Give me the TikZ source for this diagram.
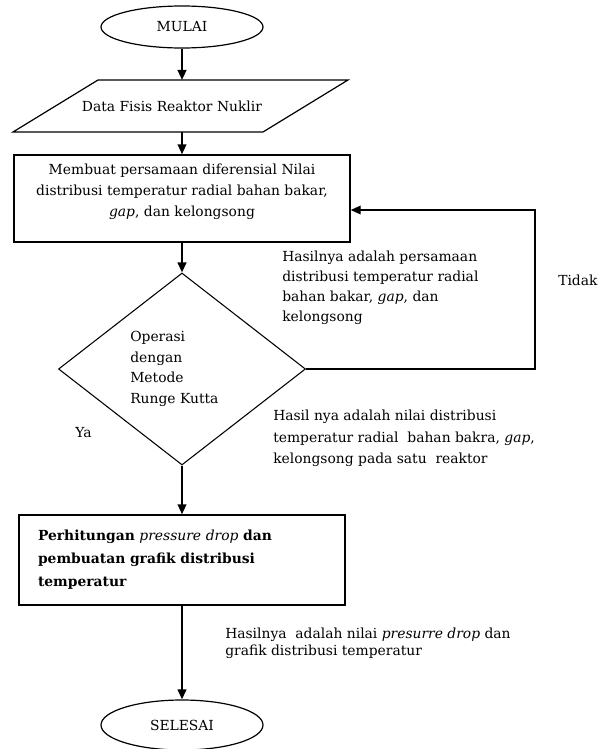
\documentclass[tikz,border=0pt]{standalone}
\usepackage{fontspec}
\setmainfont{DejaVu Serif}
\usetikzlibrary{shapes.geometric,arrows.meta}
\tikzset{
  line/.style={line width=1.5pt,-{Triangle[length=7.5pt,width=6.5pt]}},
  terminal/.style={draw,ellipse,line width=0.9pt,minimum width=121.5pt,minimum height=31.5pt,inner sep=0pt},
  process/.style={draw,rectangle,line width=1.1pt,inner sep=0pt},
  note/.style={align=left,inner sep=0pt,anchor=west},
}
\begin{document}
\begin{tikzpicture}[x=0.75pt,y=-0.75pt,font=\fontsize{10.4}{15}\selectfont]
\useasboundingbox (0,0) rectangle (612,749);
% alur utama
\node[terminal] (mulai) at (182,27) {MULAI};
\coordinate (dataNW) at (98,80);
\coordinate (dataNE) at (348,80);
\coordinate (dataSE) at (263,132);
\coordinate (dataSW) at (13,132);
\draw[line width=0.9pt] (dataSW) -- (dataNW) -- (dataNE) -- (dataSE) -- cycle;
\node[inner sep=0pt] (data) at (172,106) {Data Fisis Reaktor Nuklir};
\node[process,minimum width=252pt,minimum height=65.25pt] (model) at (182,198.5) {};
\node[align=center,inner sep=0pt,font=\fontsize{10.4}{15.75}\selectfont] (modelteks) at (182,192)
  {Membuat persamaan diferensial Nilai\\distribusi temperatur radial bahan bakar,\\\textit{gap}, dan kelongsong};
\node[draw,diamond,minimum width=185.25pt,minimum height=144pt,inner sep=0pt,line width=0.8pt] (uji) at (182,369) {};
\node[note,font=\fontsize{10.4}{15.4}\selectfont] (ujiteks) at (130,369) {Operasi\\dengan\\Metode\\Runge Kutta};
\node[process,minimum width=244.5pt,minimum height=67.5pt,text width=216pt,align=left,font=\fontsize{10.4}{17.25}\selectfont\bfseries] (hitung) at (182,560)
  {Perhitungan {\mdseries\itshape pressure drop} dan\\pembuatan grafik distribusi\\temperatur};
\node[terminal,minimum height=37.5pt] (selesai) at (182,725) {SELESAI};
% panah
\draw[line] (mulai) -- (mulai |- dataNW);
\draw[line] (mulai |- dataSW) -- (model);
\draw[line] (model) -- (uji);
\draw[line] (uji) -- (hitung);
\draw[line] (hitung) -- (selesai);
\coordinate (balik) at (535,210);
\draw[line width=1.1pt,-{Triangle[length=7.5pt,width=6.5pt]}] (uji.east) -| (balik) -- (balik -| model.east);
% keterangan
\node[note] (kettidak) at (558,280) {Tidak};
\node[note] (ketya) at (75,433) {Ya};
\node[note] (ketpers) at (282,288) {Hasilnya adalah persamaan\\distribusi temperatur radial\\bahan bakar, \textit{gap}, dan\\kelongsong};
\node[note,font=\fontsize{10.4}{16}\selectfont] (ketnilai) at (273,438.5) {Hasil nya adalah nilai distribusi\\temperatur radial\ \ bahan bakra, \textit{gap},\\kelongsong pada satu\ \ reaktor};
\node[note,font=\fontsize{10.4}{12.75}\selectfont] (ketgrafik) at (225,643.5) {Hasilnya\ \ adalah nilai \textit{presurre drop} dan\\grafik distribusi temperatur};
\end{tikzpicture}
\end{document}
